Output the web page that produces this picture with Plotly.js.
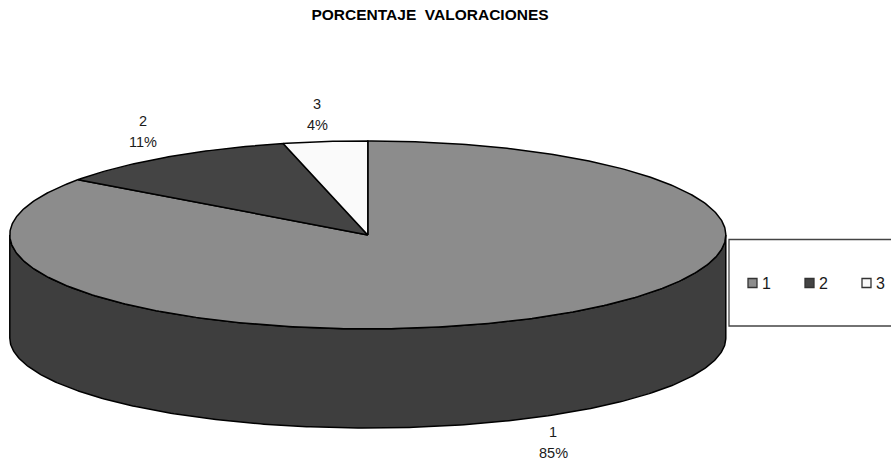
<!DOCTYPE html>
<html>
<head>
<meta charset="utf-8">
<script src="https://cdn.plot.ly/plotly-3.0.1.min.js"></script>
<style>html,body{margin:0;padding:0;background:#fff}</style>
</head>
<body>
<div id="chart" style="width:891px;height:459px"></div>
<script>
// Data
const categories = ['1', '2', '3'];
const percents = [85.0, 11.2, 3.8];
const topColors = ['#8c8c8c', '#444444', '#fafafa'];
const sideColor = '#3e3e3e';

// Tilted-disc projection in the axis units
const CX = 367.8, CY = 234.9, RX = 358, RY = 94;
const BOTTOM_CY = 338, BOTTOM_RY = 90;
const total = percents.reduce((a, b) => a + b, 0);

function arc(a0, a1, cy, ry) {
  const n = Math.max(2, Math.ceil(Math.abs(a1 - a0) * 90));
  const xs = [], ys = [];
  for (let i = 0; i <= n; i++) {
    const t = a0 + (a1 - a0) * i / n;
    xs.push(CX + RX * Math.sin(t));
    ys.push(cy - ry * Math.cos(t));
  }
  return [xs, ys];
}

const traces = [];

// Visible wall: front half of the disc, from 3 o'clock to 9 o'clock
const [tx, ty] = arc(Math.PI / 2, 3 * Math.PI / 2, CY, RY);
const [bx, by] = arc(3 * Math.PI / 2, Math.PI / 2, BOTTOM_CY, BOTTOM_RY);
traces.push({
  type: 'scatter', mode: 'lines', x: tx.concat(bx, [tx[0]]), y: ty.concat(by, [ty[0]]),
  fill: 'toself', fillcolor: sideColor, line: {color: '#000', width: 1.5},
  hoverinfo: 'skip', showlegend: false
});

// Top slices, clockwise from 12 o'clock
let cum = 0;
percents.forEach((v, i) => {
  const a0 = 2 * Math.PI * cum / total;
  cum += v;
  const a1 = 2 * Math.PI * cum / total;
  const [ax, ay] = arc(a0, a1, CY, RY);
  traces.push({
    type: 'scatter', mode: 'lines',
    x: [CX].concat(ax, [CX]), y: [CY].concat(ay, [CY]),
    fill: 'toself', fillcolor: topColors[i], line: {color: '#000', width: 1.5},
    name: categories[i], text: Math.round(v) + '%', hoverinfo: 'name+text', showlegend: false
  });
});

// Legend keys
const keyX = [752.5, 809.5, 866.5];
const keyY = 283;
traces.push({
  type: 'scatter', mode: 'markers',
  x: keyX, y: keyX.map(() => keyY),
  marker: {symbol: 'square', size: 9, color: topColors, line: {color: '#333', width: 1.3}},
  hoverinfo: 'skip', showlegend: false, cliponaxis: false
});

const family = 'Liberation Sans, Arial, sans-serif';
const font = {family, size: 14.5, color: '#1a1a1a'};
const annotations = [];

// Slice labels
const labelPos = [[553, 431.5], [143, 121], [317, 104]];
categories.forEach((c, i) => {
  annotations.push({x: labelPos[i][0], y: labelPos[i][1], text: c, showarrow: false, font,
    xref: 'x', yref: 'y', xanchor: 'center', yanchor: 'middle'});
  annotations.push({x: labelPos[i][0], y: labelPos[i][1] + 21, text: Math.round(percents[i]) + '%', showarrow: false, font,
    xref: 'x', yref: 'y', xanchor: 'center', yanchor: 'middle'});
});

// Legend labels
categories.forEach((c, i) => {
  annotations.push({x: keyX[i] + 9.5, y: keyY, text: c, showarrow: false,
    font: {family, size: 16, color: '#1a1a1a'},
    xref: 'x', yref: 'y', xanchor: 'left', yanchor: 'middle', xshift: -2});
});

const layout = {
  width: 891, height: 459,
  margin: {l: 0, r: 0, t: 0, b: 0},
  paper_bgcolor: '#fff', plot_bgcolor: '#fff',
  title: {
    text: 'PORCENTAJE\u00a0\u00a0VALORACIONES',
    x: 430 / 891, xanchor: 'center', y: 1 - 15 / 459, yanchor: 'middle',
    font: {family, size: 15.5, color: '#000', weight: 700}
  },
  xaxis: {visible: false, range: [0, 891], fixedrange: true},
  yaxis: {visible: false, range: [459, 0], fixedrange: true},
  shapes: [{type: 'rect', xref: 'x', yref: 'y', x0: 729, x1: 893, y0: 239.5, y1: 326,
    line: {color: '#444', width: 1.3}, fillcolor: '#fff', layer: 'below'}],
  annotations,
  showlegend: false
};

Plotly.newPlot('chart', traces, layout, {displayModeBar: false, staticPlot: true});
</script>
</body>
</html>
